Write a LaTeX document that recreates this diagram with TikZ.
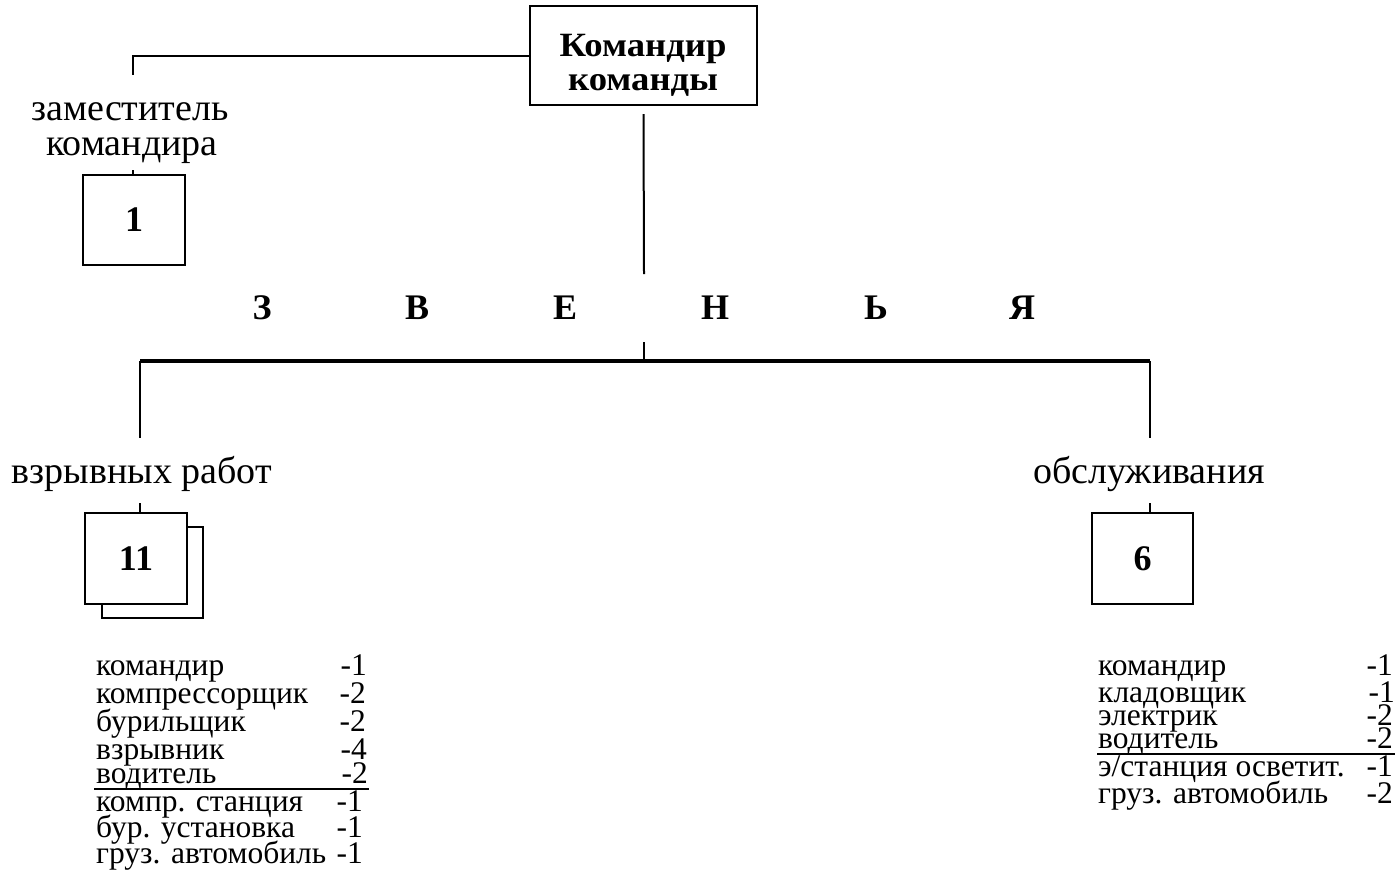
\documentclass[tikz,border=0pt]{standalone}
\usepackage{fontspec}
\setmainfont{Liberation Serif}
\newfontfamily\titlefont[FakeStretch=1.08]{Liberation Serif}
\begin{document}
\begin{tikzpicture}[x=1pt,y=-1pt,
  box/.style={draw,line width=2.4pt,fill=white,inner sep=0pt},
  conn/.style={line width=2pt},
  lbl/.style={inner sep=0pt,anchor=base,font=\fontsize{38}{38}\selectfont},
  item/.style={inner sep=0pt,anchor=base west,font=\fontsize{31.5}{31.5}\selectfont},
  num/.style={inner sep=0pt,anchor=base east,font=\fontsize{31.5}{31.5}\selectfont},
  ttl/.style={inner sep=0pt,anchor=base,font=\titlefont\fontsize{34}{34}\selectfont\bfseries},
  digit/.style={font=\fontsize{36}{36}\selectfont\bfseries},
  lett/.style={inner sep=0pt,font=\fontsize{36}{36}\selectfont\bfseries}]
\useasboundingbox (0,0) rectangle (1399,870);
% commander
\node[box,minimum width=227pt,minimum height=99pt] (cmd) at (643.5,55.5) {};
\node[ttl] (cmdA) at (643,56) {Командир};
\node[ttl] (cmdB) at (643,90) {команды};
% deputy
\coordinate (c1) at (133,75);
\draw[conn] (cmd.west) -| (c1);
\node[lbl] (dep1) at (130,120) {заместитель};
\node[lbl] (dep2) at (132,155) {командира};
\node[box,minimum width=102pt,minimum height=90pt,digit] (b1) at (134,220) {1};
\coordinate (t1) at (133,170);
\draw[conn] (t1) -- (t1 |- b1.north);
% main vertical
\coordinate (m2) at (644,274);
\draw[conn] ([yshift=-8pt]cmd.south) -- (m2);
% letters
\node[lett] (z1) at (262,308) {З};
\node[lett] (z2) at (417,308) {В};
\node[lett] (z3) at (565,308) {Е};
\node[lett] (z4) at (715,308) {Н};
\node[lett] (z5) at (876,308) {Ь};
\node[lett] (z6) at (1022,308) {Я};
% bus
\coordinate (m3) at (644,342);
\coordinate (busC) at (644,361);
\coordinate (busL) at (140,361);
\coordinate (busR) at (1150,361);
\coordinate (dL) at (140,438);
\coordinate (dR) at (1150,438);
\draw[conn] (m3) -- (busC);
\draw[line width=3.2pt] (busL) -- (busR);
\draw[conn] (busL) -- (dL);
\draw[conn] (busR) -- (dR);
\node[lbl] (lA) at (142,483) {взрывных работ};
\node[lbl] (lB) at (1149,483) {обслуживания};
% box 11
\node[box,minimum width=101pt,minimum height=91pt] (b11s) at (152.5,572.5) {};
\node[box,minimum width=102pt,minimum height=91pt,digit] (b11) at (136,558.5) {11};
\coordinate (t2) at (140,503);
\draw[conn] (t2) -- (t2 |- b11.north);
% box 6
\node[box,minimum width=101pt,minimum height=91pt,digit] (b6) at (1142.5,558.5) {6};
\coordinate (t3) at (1150,503);
\draw[conn] (t3) -- (t3 |- b6.north);
% left list
\node[item] (a1) at (96,675) {командир};      \node[num] (n1) at (367,675) {-1};
\node[item] (a2) at (96,703) {компрессорщик}; \node[num] (n2) at (366,703) {-2};
\node[item] (a3) at (96,731) {бурильщик};     \node[num] (n3) at (366,731) {-2};
\node[item] (a4) at (96,759) {взрывник};      \node[num] (n4) at (367,759) {-4};
\node[item] (a5) at (96,783) {водитель};      \node[num] (n5) at (368,783) {-2};
\draw[line width=1.6pt] (94,789) -- (369,789);
\node[item] (a6) at (96,811) {компр. станция}; \node[num] (n6) at (363,811) {-1};
\node[item] (a7) at (96,837) {бур. установка}; \node[num] (n7) at (363,837) {-1};
\node[item] (a8) at (96,863) {груз. автомобиль}; \node[num] (n8) at (363,863) {-1};
% right list
\node[item] (r1) at (1098,675) {командир};   \node[num] (p1) at (1393,675) {-1};
\node[item] (r2) at (1098,702) {кладовщик};  \node[num] (p2) at (1395,702) {-1};
\node[item] (r3) at (1098,725) {электрик};   \node[num] (p3) at (1393,725) {-2};
\node[item] (r4) at (1098,748) {водитель};   \node[num] (p4) at (1393,748) {-2};
\draw[line width=1.4pt] (1097,754) -- (1395,754);
\node[item] (r5) at (1098,776) {э/станция осветит.}; \node[num] (p5) at (1393,776) {-1};
\node[item] (r6) at (1098,803) {груз. автомобиль};   \node[num] (p6) at (1393,803) {-2};
\end{tikzpicture}
\end{document}
